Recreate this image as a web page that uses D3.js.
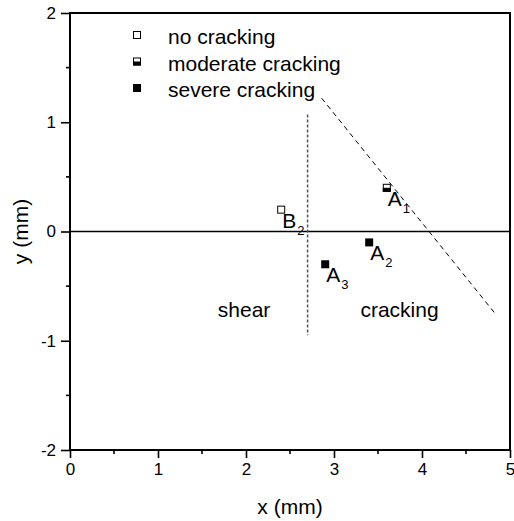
<!DOCTYPE html>
<html>
<head>
<meta charset="utf-8">
<script src="https://cdn.jsdelivr.net/npm/d3@7"></script>
<style>
  html, body { margin: 0; padding: 0; background: #fff; }
  svg { display: block; font-family: "Liberation Sans", Arial, sans-serif; }
</style>
</head>
<body>
<svg id="chart" width="514" height="521"></svg>
<script>
// ---- data ----
const pointLabels = ["B", "A", "A", "A"];
const pointSubs = ["2", "1", "2", "3"];
const pointX = [2.4, 3.6, 3.4, 2.9];
const pointY = [0.2, 0.4, -0.1, -0.3];
const pointType = ["none", "moderate", "severe", "severe"];

const legendTypes = ["none", "moderate", "severe"];
const legendLabels = ["no cracking", "moderate cracking", "severe cracking"];

const shearLineX = [2.7, 2.7];
const shearLineY = [1.07, -0.95];
const crackLineX = [2.86, 4.84];
const crackLineY = [1.22, -0.76];

const regionLabels = ["shear", "cracking"];
const regionX = [1.68, 3.3];
const regionY = [-0.78, -0.78];

const xTicks = [0, 1, 2, 3, 4, 5];
const yTicks = [-2, -1, 0, 1, 2];
const xMinor = [0.5, 1.5, 2.5, 3.5, 4.5];
const yMinor = [-1.5, -0.5, 0.5, 1.5];

// ---- layout ----
const L = 70, R = 510, T = 13, B = 450;
const svg = d3.select("#chart");
const x = d3.scaleLinear().domain([0, 5]).range([L, R]);
const y = d3.scaleLinear().domain([-2, 2]).range([B, T]);

// axes
const xAxis = d3.axisBottom(x).tickValues(xTicks).tickFormat(d3.format("d")).tickSize(8).tickPadding(5);
const yAxis = d3.axisLeft(y).tickValues(yTicks).tickFormat(d => d3.format("d")(d).replace("\u2212", "-")).tickSize(9).tickPadding(5);
const gx = svg.append("g").attr("transform", `translate(0,${B})`).call(xAxis);
const gy = svg.append("g").attr("transform", `translate(${L},0)`).call(yAxis);
[gx, gy].forEach(g => {
  g.select(".domain").remove();
  g.selectAll(".tick line").attr("stroke", "#000").attr("stroke-width", 1.6);
  g.selectAll(".tick text").attr("fill", "#000").style("font-size", "17px").style("font-family", "Liberation Sans, Arial, sans-serif");
});
gx.selectAll(".tick text").attr("dy", "0.71em");
// minor ticks
svg.append("g").selectAll("line").data(xMinor).join("line")
  .attr("x1", d => x(d)).attr("x2", d => x(d)).attr("y1", B).attr("y2", B + 4)
  .attr("stroke", "#000").attr("stroke-width", 1.6);
svg.append("g").selectAll("line").data(yMinor).join("line")
  .attr("y1", d => y(d)).attr("y2", d => y(d)).attr("x1", L).attr("x2", L - 4)
  .attr("stroke", "#000").attr("stroke-width", 1.6);

// frame
svg.append("rect").attr("x", L).attr("y", T).attr("width", R - L).attr("height", B - T)
  .attr("fill", "none").attr("stroke", "#000").attr("stroke-width", 2);

// zero line
svg.append("line").attr("x1", x(0)).attr("x2", x(5)).attr("y1", y(0)).attr("y2", y(0))
  .attr("stroke", "#000").attr("stroke-width", 1.5);

// dashed lines
const line = d3.line().x(d => x(d[0])).y(d => y(d[1]));
svg.append("path").attr("d", line(d3.zip(shearLineX, shearLineY)))
  .attr("stroke", "#555").attr("stroke-width", 1.5).attr("stroke-dasharray", "3,2").attr("fill", "none");
svg.append("path").attr("d", line(d3.zip(crackLineX, crackLineY)))
  .attr("stroke", "#000").attr("stroke-width", 1).attr("stroke-dasharray", "5,4").attr("fill", "none");

// marker drawing
const S = 8;
function marker(g, cx, cy, type) {
  if (type === "severe") {
    g.append("rect").attr("x", cx - S / 2).attr("y", cy - S / 2).attr("width", S).attr("height", S).attr("fill", "#000");
  } else if (type === "moderate") {
    g.append("rect").attr("x", cx - S / 2 + 0.5).attr("y", cy - S / 2 + 0.5).attr("width", S - 1).attr("height", S - 1)
      .attr("fill", "#fff").attr("stroke", "#000").attr("stroke-width", 1);
    g.append("rect").attr("x", cx - S / 2).attr("y", cy).attr("width", S).attr("height", S / 2).attr("fill", "#000");
  } else {
    g.append("rect").attr("x", cx - S / 2 + 0.5).attr("y", cy - S / 2 + 0.5).attr("width", S - 1).attr("height", S - 1)
      .attr("fill", "#fff").attr("stroke", "#000").attr("stroke-width", 1);
  }
}

// points + labels
const pg = svg.append("g");
pointX.forEach((px, i) => {
  marker(pg, x(px), y(pointY[i]), pointType[i]);
  const t = pg.append("text").attr("x", x(px) + 1).attr("y", y(pointY[i]) + 18)
    .style("font-size", "21px").attr("fill", "#000");
  t.append("tspan").text(pointLabels[i]);
  t.append("tspan").attr("dx", 1).attr("dy", 7).style("font-size", "13px").text(pointSubs[i]);
});

// region labels
svg.append("g").selectAll("text").data(regionLabels).join("text")
  .attr("x", (d, i) => x(regionX[i])).attr("y", (d, i) => y(regionY[i]))
  .style("font-size", "21px").attr("fill", "#000").text(d => d);

// legend
const lg = svg.append("g");
legendLabels.forEach((lab, i) => {
  const cy = 35 + i * 26.5;
  marker(lg, 137, cy, legendTypes[i]);
  lg.append("text").attr("x", 168).attr("y", cy + 9).style("font-size", "21px").attr("fill", "#000").text(lab);
});

// axis titles
svg.append("text").attr("x", (L + R) / 2).attr("y", 514).attr("text-anchor", "middle")
  .style("font-size", "21px").attr("fill", "#000").text("x (mm)");
svg.append("text").attr("transform", `translate(28,${(T + B) / 2}) rotate(-90)`).attr("text-anchor", "middle")
  .style("font-size", "21px").attr("fill", "#000").text("y (mm)");
</script>
</body>
</html>
